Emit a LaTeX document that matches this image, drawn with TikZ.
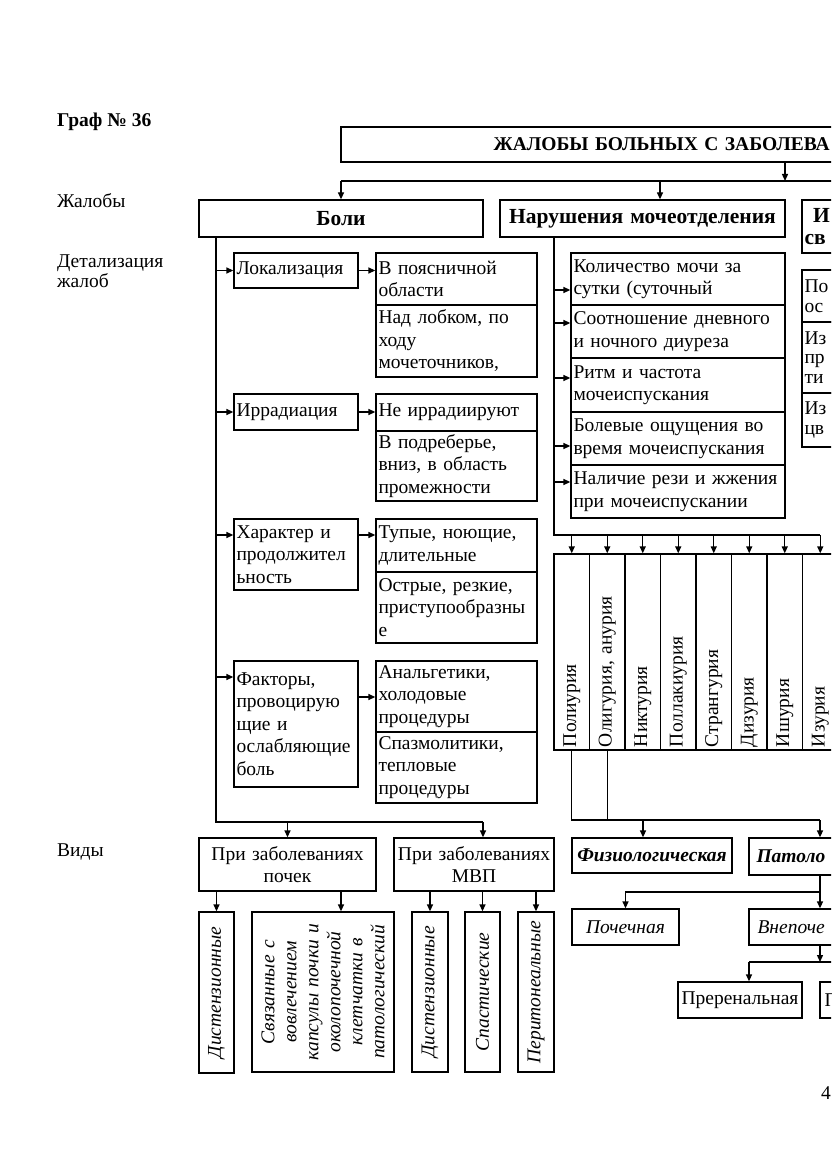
\documentclass[tikz,border=0pt]{standalone}
\usepackage{fontspec}
\usepackage{graphicx}
\setmainfont{Liberation Serif}
\usetikzlibrary{arrows.meta}
\hyphenpenalty=10000
\exhyphenpenalty=10000
\newcommand\nf{\fontsize{19.5}{22.5}\selectfont}
\newcommand\rf{\fontsize{19.5}{19.5}\selectfont}
\newcommand\hf{\fontsize{21.5}{23}\selectfont\bfseries}
\newcommand\bx[7][]{%
  \pgfmathsetmacro\bxcx{(#3+#5)/2}%
  \pgfmathsetmacro\bxcy{(#4+#6)/2}%
  \pgfmathsetmacro\bxw{#5-#3}%
  \pgfmathsetmacro\bxh{#6-#4}%
  \pgfmathsetmacro\bxtw{#5-#3-5}%
  \node[box,minimum width=\bxw pt,minimum height=\bxh pt,text width=\bxtw pt,align=left,#1] (#2) at (\bxcx,\bxcy) {#7};}
\newcommand\colt[1]{\rotatebox{90}{\makebox[190pt][l]{#1}}}
\begin{document}
\begin{tikzpicture}[x=1pt,y=-1pt,
  box/.style={draw,line width=1.3pt,inner sep=0pt,font=\nf},
  ln/.style={line width=1.3pt},
  arr/.style={line width=1.3pt,-{Triangle[length=7pt,width=6pt]}},
  lbl/.style={anchor=west,inner sep=0pt,font=\nf,align=left}]
\useasboundingbox (0,0) rectangle (831,1174);
\clip (0,0) rectangle (831,1174);
\fill[white] (0,0) rectangle (831,1174);
% left labels
\node[lbl,font=\nf\bfseries] (graf) at (57,122) {Граф № 36};
\node[lbl] (zhal) at (57,201) {Жалобы};
\node[lbl,font=\fontsize{19.5}{20}\selectfont] (detal) at (57,271) {Детализация\\жалоб};
\node[lbl] (vidy) at (57,852) {Виды};
% top level
\bx{top}{341}{127}{1240}{162}{\hspace*{150pt}\bfseries ЖАЛОБЫ БОЛЬНЫХ С ЗАБОЛЕВА}
\bx[align=center,font=\hf]{boli}{199}{200}{483}{237}{Боли}
\bx[align=center,font=\hf]{nar}{500}{200}{785}{237}{Нарушения мочеотделения}
\bx[font=\fontsize{21.5}{22}\selectfont\bfseries]{izm}{802}{200}{1240}{253}{\hspace*{8.5pt}И\\св}
\bx[font=\rf]{r1}{802}{270}{1240}{322}{По\\ос}
\bx[font=\rf]{r2}{802}{322}{1240}{393}{Из\\пр\\ти}
\bx[font=\rf]{r3}{802}{393}{1240}{447}{Из\\цв}
% pain
\bx{lok}{234}{253}{358}{288}{Локализация}
\bx{vpo}{376}{253}{537}{305}{В поясничной\\области}
\bx{nad}{376}{305}{537}{377}{Над лобком, по\\ходу\\мочеточников,}
\bx{irr}{234}{394}{358}{430}{Иррадиация}
\bx{neir}{376}{394}{537}{431}{Не иррадиируют}
\bx{vpod}{376}{431}{537}{501}{В подреберье,\\вниз, в область\\промежности}
\bx{har}{234}{519}{358}{590}{Характер и\\продолжител\\ьность}
\bx{tup}{376}{519}{537}{572}{Тупые, ноющие,\\длительные}
\bx{ost}{376}{572}{537}{643}{Острые, резкие,\\приступообразны\\е}
\bx{fak}{234}{661}{358}{787}{Факторы,\\провоцирую\\щие и\\ослабляющие\\боль}
\bx{anal}{376}{661}{537}{732}{Анальгетики,\\холодовые\\процедуры}
\bx{spaz}{376}{732}{537}{803}{Спазмолитики,\\тепловые\\процедуры}
% urination
\bx{k1}{571}{253}{785}{305}{Количество мочи за\\сутки (суточный}
\bx{k2}{571}{305}{785}{358}{Соотношение дневного\\и ночного диуреза}
\bx{k3}{571}{358}{785}{412}{Ритм и частота\\мочеиспускания}
\bx{k4}{571}{412}{785}{465}{Болевые ощущения во\\время мочеиспускания}
\bx{k5}{571}{465}{785}{518}{Наличие рези и жжения\\при мочеиспускании}
\bx[align=center]{col1}{554}{554}{589.5}{750}{\colt{Полиурия}}
\bx[align=center]{col2}{589.5}{554}{625}{750}{\colt{Олигурия, анурия}}
\bx[align=center]{col3}{625}{554}{660.5}{750}{\colt{Никтурия}}
\bx[align=center]{col4}{660.5}{554}{696}{750}{\colt{Поллакиурия}}
\bx[align=center]{col5}{696}{554}{731.5}{750}{\colt{Странгурия}}
\bx[align=center]{col6}{731.5}{554}{767}{750}{\colt{Дизурия}}
\bx[align=center]{col7}{767}{554}{802.5}{750}{\colt{Ишурия}}
\bx[align=center]{col8}{802.5}{554}{838}{750}{\colt{Изурия}}
% kinds
\bx[align=center]{pp}{199}{838}{376}{891}{При заболеваниях\\почек}
\bx[align=center]{pm}{394}{838}{554}{891}{При заболеваниях\\МВП}
\bx[align=center]{d1}{199}{912}{234}{1073}{\rotatebox{90}{\itshape Дистензионные}}
\bx[align=center]{sv}{252}{912}{394}{1072}{\rotatebox{90}{\parbox{150pt}{\centering\itshape\fontsize{19.5}{22}\selectfont Связанные с\\вовлечением\\капсулы почки и\\околопочечной\\клетчатки в\\патологический}}}
\bx[align=center]{d2}{412}{912}{448}{1072}{\rotatebox{90}{\itshape Дистензионные}}
\bx[align=center]{spas}{465}{912}{500}{1072}{\rotatebox{90}{\itshape Спастические}}
\bx[align=center]{per}{518}{912}{554}{1072}{\rotatebox{90}{\itshape Перитонеальные}}
\bx[align=center]{fiz}{572}{838}{732}{873}{\bfseries\itshape Физиологическая}
\bx{pat}{749}{838}{1240}{875}{\hspace*{5pt}\bfseries\itshape Патоло}
\bx[align=center]{poch}{572}{909}{679}{945}{\itshape Почечная}
\bx{vnep}{749}{909}{1240}{945}{\hspace*{6pt}\itshape Внепоче}
\bx[align=center]{prer}{678}{982}{802}{1018}{Преренальная}
\bx{post}{820}{982}{1240}{1018}{\hspace*{2pt}П}
\node[lbl] (page) at (821,1093) {4};
% connectors: top
\coordinate (busL) at (341,181);
\coordinate (busR) at (845,181);
\coordinate (c1) at (785,181);
\coordinate (c2) at (660,181);
\draw[ln] (busL) -- (busR);
\draw[arr] (top.south -| c1) -- (c1);
\draw[arr] (busL) -- (boli.north);
\draw[arr] (c2) -- (c2 |- nar.north);
% pain spine
\coordinate (sx) at (216,822);
\coordinate (bB) at (483,822);
\coordinate (yh) at (0,535);
\coordinate (yf) at (0,677);
\coordinate (ya) at (0,697);
\draw[ln] (boli.south -| sx) -- (sx) -- (bB);
\draw[arr] (lok.west -| sx) -- (lok.west);
\draw[arr] (irr.west -| sx) -- (irr.west);
\draw[arr] (sx |- yh) -- (har.west |- yh);
\draw[arr] (sx |- yf) -- (fak.west |- yf);
\draw[arr] (lok.east) -- (vpo.west |- lok.east);
\draw[arr] (irr.east) -- (neir.west |- irr.east);
\draw[arr] (har.east |- yh) -- (tup.west |- yh);
\draw[arr] (fak.east |- ya) -- (anal.west |- ya);
\draw[arr] (pp.north |- sx) -- (pp.north);
\draw[arr] (bB) -- (bB |- pm.north);
\coordinate (c3) at (341,0);
\draw[arr] (d1.north |- pp.south) -- (d1.north);
\draw[arr] (pp.south -| c3) -- (sv.north -| c3);
\draw[arr] (d2.north |- pm.south) -- (d2.north);
\draw[arr] (spas.north |- pm.south) -- (spas.north);
\draw[arr] (per.north |- pm.south) -- (per.north);
% urination spine
\coordinate (nx) at (554,535);
\coordinate (nR) at (820.25,535);
\draw[ln] (nar.south -| nx) -- (nx) -- (nR);
\coordinate (y1) at (0,290);
\coordinate (y2) at (0,323);
\coordinate (y3) at (0,378);
\coordinate (y4) at (0,446);
\coordinate (y5) at (0,482);
\draw[arr] (nx |- y1) -- (k1.west |- y1);
\draw[arr] (nx |- y2) -- (k2.west |- y2);
\draw[arr] (nx |- y3) -- (k3.west |- y3);
\draw[arr] (nx |- y4) -- (k4.west |- y4);
\draw[arr] (nx |- y5) -- (k5.west |- y5);
\foreach \c in {1,...,8} {\draw[arr] (col\c.north |- nx) -- (col\c.north);}
% kinds of urination disorders
\coordinate (c4) at (820,820);
\coordinate (c5) at (643,820);
\draw[ln] (col1.south) -- (col1.south |- c4) -- (c4);
\draw[ln] (col2.south) -- (col2.south |- c4);
\draw[arr] (c5) -- (c5 |- fiz.north);
\draw[arr] (c4) -- (c4 |- pat.north);
\coordinate (c6) at (820,892);
\draw[arr] (pat.south -| c6) -- (vnep.north -| c6);
\draw[arr] (c6) -- (c6 -| poch.north) -- (poch.north);
\coordinate (c7) at (820,962);
\coordinate (c8) at (749,962);
\coordinate (c9) at (845,962);
\draw[arr] (vnep.south -| c7) -- (c7);
\draw[ln] (c8) -- (c9);
\draw[arr] (c8) -- (c8 |- prer.north);
\end{tikzpicture}
\end{document}
